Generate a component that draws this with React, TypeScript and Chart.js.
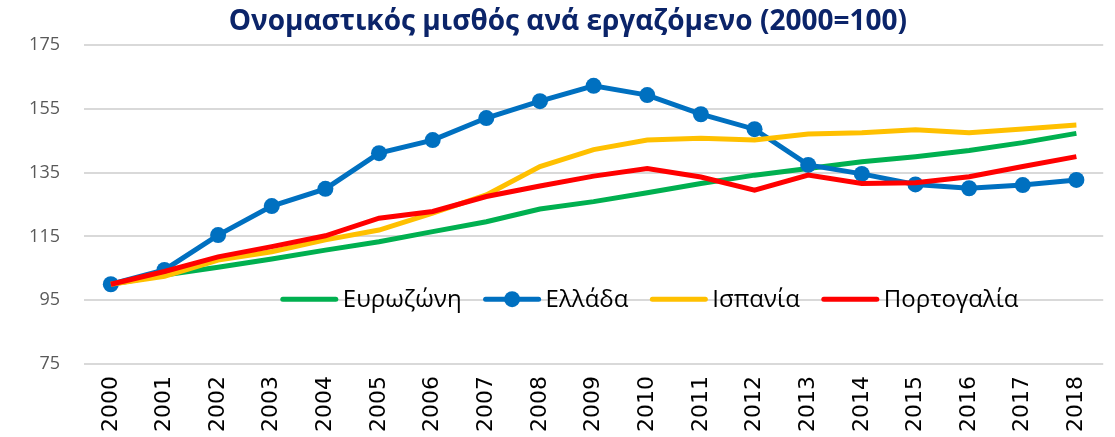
import React, { useEffect, useRef } from "react";
import { Chart, registerables } from "chart.js";

Chart.register(...registerables);

const years = ["2000","2001","2002","2003","2004","2005","2006","2007","2008","2009","2010","2011","2012","2013","2014","2015","2016","2017","2018"];
const eurozone = [100, 102.9, 105.3, 107.9, 110.7, 113.3, 116.5, 119.6, 123.6, 125.9, 128.7, 131.6, 134.2, 136.3, 138.4, 140.0, 141.9, 144.4, 147.3];
const greece = [100, 104.5, 115.4, 124.5, 129.9, 141.1, 145.2, 152.1, 157.4, 162.2, 159.3, 153.3, 148.6, 137.4, 134.6, 131.3, 130.1, 131.1, 132.7];
const spain = [100, 102.5, 107.6, 110.2, 113.9, 117.0, 122.3, 128.0, 136.9, 142.2, 145.2, 145.8, 145.2, 147.1, 147.5, 148.4, 147.5, 148.7, 149.9];
const portugal = [100, 104.0, 108.6, 111.8, 115.2, 120.7, 122.8, 127.5, 130.8, 133.9, 136.3, 133.6, 129.5, 134.2, 131.6, 131.8, 133.7, 136.9, 140.0];
const titleText = "Ονομαστικός μισθός ανά εργαζόμενο (2000=100)";
const seriesNames = ["Ευρωζώνη", "Ελλάδα", "Ισπανία", "Πορτογαλία"];

const titlePlugin = {
  id: "customTitle",
  afterDraw(chart: any) {
    const ctx = chart.ctx;
    const area = chart.chartArea;
    ctx.save();
    ctx.font = "bold 28px 'Open Sans'";
    ctx.fillStyle = "#0B2469";
    ctx.textAlign = "center";
    ctx.textBaseline = "middle";
    ctx.fillText(titleText, area.left + 0.4747 * (area.right - area.left), 22);
    ctx.restore();
  },
};

const legendPlugin = {
  id: "innerLegend",
  afterDatasetsDraw(chart: any) {
    const ctx = chart.ctx;
    const area = chart.chartArea;
    const y = chart.scales.y.getPixelForValue(95) - 1;
    const lineLen = 57;
    const gapLineText = 5;
    const gapItems = 22;
    ctx.save();
    ctx.font = "24px 'Open Sans'";
    ctx.textBaseline = "middle";
    const items = chart.data.datasets.map((ds: any) => ({
      ds,
      w: lineLen + gapLineText + ctx.measureText(ds.label).width,
    }));
    const total = items.reduce((s: number, it: any) => s + it.w, 0) + gapItems * (items.length - 1);
    const cx = area.left + 0.555 * (area.right - area.left);
    let x = cx - total / 2;
    for (const it of items) {
      const ds = it.ds;
      ctx.strokeStyle = ds.borderColor;
      ctx.lineWidth = 5;
      ctx.lineCap = "round";
      ctx.beginPath();
      ctx.moveTo(x + 2, y);
      ctx.lineTo(x + lineLen - 2, y);
      ctx.stroke();
      if (ds.pointRadius > 0) {
        ctx.fillStyle = ds.borderColor;
        ctx.beginPath();
        ctx.arc(x + lineLen / 2, y, 8, 0, Math.PI * 2);
        ctx.fill();
      }
      ctx.fillStyle = "#000000";
      ctx.textAlign = "left";
      ctx.fillText(ds.label, x + lineLen + gapLineText, y + 1);
      x += it.w + gapItems;
    }
    ctx.restore();
  },
};

export default function App() {
  const ref = useRef<HTMLCanvasElement>(null);
  useEffect(() => {
    if (!ref.current) return;
    const chart = new Chart(ref.current, {
      type: "line",
      data: {
        labels: years,
        datasets: [
          { label: seriesNames[0], data: eurozone, borderColor: "#00B050", backgroundColor: "#00B050", borderWidth: 5, pointRadius: 0, order: 3, tension: 0 },
          { label: seriesNames[1], data: greece, borderColor: "#0070C0", backgroundColor: "#0070C0", borderWidth: 5, pointRadius: 8, pointBorderWidth: 0, order: 2, tension: 0 },
          { label: seriesNames[2], data: spain, borderColor: "#FFC000", backgroundColor: "#FFC000", borderWidth: 5, pointRadius: 0, order: 1, tension: 0 },
          { label: seriesNames[3], data: portugal, borderColor: "#FF0000", backgroundColor: "#FF0000", borderWidth: 5, pointRadius: 0, order: 0, tension: 0 },
        ],
      },
      options: {
        animation: false,
        responsive: false,
        maintainAspectRatio: false,
        layout: { padding: { left: 0, right: 5, top: 45, bottom: 0 } },
        plugins: {
          legend: { display: false },
          tooltip: { enabled: false },
          title: { display: false },
        },
        scales: {
          x: {
            offset: true,
            grid: { display: false, drawTicks: false },
            border: { display: false },
            ticks: {
              color: "#000000",
              font: { family: "'DejaVu Sans'", size: 22 },
              maxRotation: 90,
              minRotation: 90,
              padding: 12,
              autoSkip: false,
            },
            afterFit(scale: any) { scale.height = 73; },
          },
          y: {
            min: 75,
            max: 175,
            grid: { color: "#D9D9D9", lineWidth: 2, drawTicks: false },
            border: { display: false },
            ticks: {
              stepSize: 20,
              color: "#595959",
              font: { family: "'Open Sans'", size: 18 },
              padding: 24,
            },
            afterFit(scale: any) { scale.width = 84; },
          },
        },
      },
      plugins: [legendPlugin, titlePlugin],
    });
    return () => chart.destroy();
  }, []);
  return (
    <div style={{ position: "fixed", left: 0, top: 0, width: 1115, height: 437, background: "#ffffff" }}>
      <canvas ref={ref} width={1115} height={437} style={{ width: 1115, height: 437 }} />
    </div>
  );
}
